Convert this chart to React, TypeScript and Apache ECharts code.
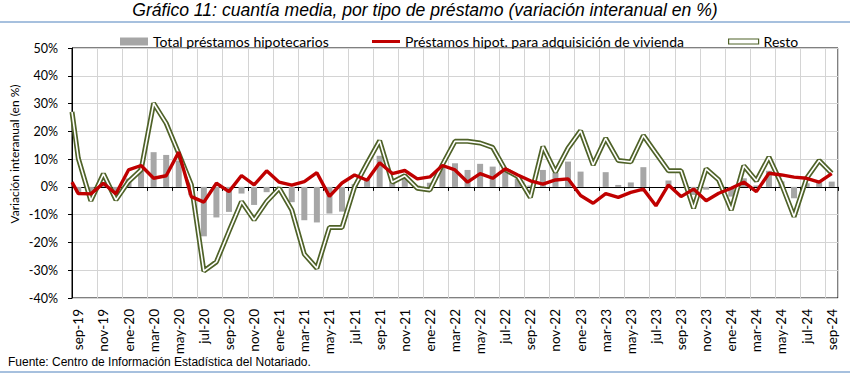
import React, { useEffect, useRef } from "react";
import * as echarts from "echarts";

const categories = [
  "sep-19","oct-19","nov-19","dic-19","ene-20","feb-20","mar-20","abr-20","may-20","jun-20",
  "jul-20","ago-20","sep-20","oct-20","nov-20","dic-20","ene-21","feb-21","mar-21","abr-21",
  "may-21","jun-21","jul-21","ago-21","sep-21","oct-21","nov-21","dic-21","ene-22","feb-22",
  "mar-22","abr-22","may-22","jun-22","jul-22","ago-22","sep-22","oct-22","nov-22","dic-22",
  "ene-23","feb-23","mar-23","abr-23","may-23","jun-23","jul-23","ago-23","sep-23","oct-23",
  "nov-23","dic-23","ene-24","feb-24","mar-24","abr-24","may-24","jun-24","jul-24","ago-24",
  "sep-24",
];

const totalPrestamos = [
  -2, -3, 1, -3, 3, 7, 12.5, 11.5, 9.5, -3,
  -17.8, -11, -9, -2.4, -6.5, -1.9, -1, -5.5, -12, -12.8,
  -9.6, -8.9, 1, 3, 11.2, 1.5, 4, 0.5, 1.5, 7.7,
  8.5, 6.1, 8.3, 7.3, 5.5, 3, 0.5, 6.1, 5, 9.1,
  5.5, 0, 5.3, 0.7, 1.6, 7.1, 0, 2.3, 0, -2.9,
  -1, 0, -3.5, 3.1, 0.5, 5.8, 2, -4.1, 1.3, 1.7,
  1.9,
];

const adquisicionVivienda = [
  -2.4, -2.5, 1.3, -2.5, 6.1, 7.7, 3.1, 4, 12.5, -3.5,
  -5.5, 1.3, -1.7, 4.1, 0.7, 5.8, 1.7, 0.6, 1.9, 5.1,
  -3.4, 1.4, 4.3, 2.4, 8.7, 4.8, 5.9, 2.9, 3.6, 7.7,
  6.1, 1.7, 4.8, 3.1, 6.5, 4.3, 2.2, 1, 2.5, 2.9,
  -3.1, -5.9, -2.4, -3.8, -2, -0.8, -6.8, 0.7, -3.5, -0.8,
  -5, -2.3, -0.5, 1.7, -1.7, 4.9, 4.3, 3.5, 3.1, 1.7,
  4.8,
];

const resto = [
  10.3, -5, 4.7, -4.7, 1.9, 6.1, 30.1, 22.9, 12, 0.8,
  -30.3, -27, -16, -5.3, -11.9, -5.3, -0.5, -8.3, -24.2, -29.3,
  -14.6, -14.6, 0, 8.5, 16.6, 1.7, 4, -0.5, -1.1, 8,
  16.4, 16.4, 15.8, 14.2, 6.2, 3.7, -3.8, 14.5, 5.3, 13.9,
  20.2, 7.9, 17.5, 9.5, 9, 18.5, 12.1, 5.8, 5.8, -7.7,
  6.5, 2.5, -8.3, 7.6, 2.2, 10.7, 1, -10.7, 3.1, 9.5,
  4.9,
];

// Values where each line enters the plot at its left edge (the segment coming from the previous month)
const edgeAdquisicion = 1.7;
const edgeResto = 27;

const yTicks = { min: -40, max: 50, interval: 10 };

const FONT = "Lato, 'Liberation Sans', sans-serif";
const RED = "#c00000";
const OLIVE = "#4f6228";
const GRAY = "#a6a6a6";
const GRID = "#d4d4d4";

function withEdge(edge: number, arr: number[]) {
  const out: [number, number][] = [[-0.5, edge]];
  arr.forEach((v, i) => out.push([i, v]));
  return out;
}

export default function App() {
  const ref = useRef<HTMLDivElement>(null);

  useEffect(() => {
    if (!ref.current) return;
    const chart = echarts.init(ref.current, undefined, { renderer: "svg" });
    const n = categories.length;
    const legendText = { fontFamily: FONT, fontSize: 14, color: "#000", lineHeight: 14 };

    chart.setOption({
      animation: false,
      backgroundColor: "#ffffff",
      grid: {
        left: 72,
        right: 12,
        top: 48,
        bottom: 76,
        show: true,
        borderColor: "#000",
        borderWidth: 1,
        backgroundColor: "transparent",
      },
      legend: [
        {
          data: ["Total préstamos hipotecarios"],
          left: 120,
          top: 34.5,
          padding: 0,
          itemWidth: 28,
          itemHeight: 8,
          icon: "rect",
          textStyle: legendText,
        },
        {
          data: ["Préstamos hipot. para adquisición de vivienda"],
          left: 372,
          top: 34.5,
          padding: 0,
          itemWidth: 28,
          itemHeight: 3,
          icon: "rect",
          textStyle: legendText,
        },
        {
          data: [{ name: "Resto", itemStyle: { color: "#ffffff", borderColor: OLIVE, borderWidth: 1.2 } }],
          left: 728,
          top: 34.5,
          padding: 0,
          itemWidth: 30,
          itemHeight: 5,
          icon: "rect",
          textStyle: legendText,
        },
      ],
      xAxis: [
        {
          type: "category",
          data: categories,
          boundaryGap: true,
          position: "bottom",
          axisLine: { show: false, onZero: false },
          axisTick: { show: false },
          axisLabel: {
            interval: 1,
            rotate: 90,
            margin: 11,
            fontFamily: FONT,
            fontSize: 13.5,
            color: "#000",
          },
          splitLine: { show: true, interval: 1, lineStyle: { color: GRID, width: 1 } },
        },
        {
          type: "category",
          data: categories,
          boundaryGap: true,
          position: "bottom",
          axisLine: { show: true, onZero: true, lineStyle: { color: "#000", width: 1 } },
          axisTick: { show: true, interval: 1, length: 4, lineStyle: { color: "#000" } },
          axisLabel: { show: false },
          splitLine: { show: false },
        },
        {
          type: "value",
          min: -0.5,
          max: n - 0.5,
          show: false,
          axisLine: { onZero: false },
          splitLine: { show: false },
        },
      ],
      yAxis: {
        type: "value",
        min: yTicks.min,
        max: yTicks.max,
        interval: yTicks.interval,
        axisLine: { show: true, onZero: false, lineStyle: { color: "#000" } },
        axisTick: { show: true, length: 4, lineStyle: { color: "#000" } },
        axisLabel: {
          formatter: "{value}%",
          fontFamily: FONT,
          fontSize: 12.5,
          color: "#000",
          margin: 14,
        },
        splitLine: { show: true, lineStyle: { color: GRID, width: 1 } },
      },
      series: [
        {
          name: "Total préstamos hipotecarios",
          type: "bar",
          xAxisIndex: 0,
          data: totalPrestamos,
          barWidth: 6,
          itemStyle: { color: GRAY },
          z: 2,
        },
        {
          name: "Resto",
          type: "line",
          xAxisIndex: 2,
          data: withEdge(edgeResto, resto),
          symbol: "none",
          clip: false,
          lineStyle: { color: OLIVE, width: 5 },
          itemStyle: { color: OLIVE },
          z: 3,
        },
        {
          name: "RestoInner",
          type: "line",
          xAxisIndex: 2,
          data: withEdge(edgeResto, resto),
          symbol: "none",
          clip: false,
          lineStyle: { color: "#ffffff", width: 1.6 },
          z: 4,
        },
        {
          name: "Préstamos hipot. para adquisición de vivienda",
          type: "line",
          xAxisIndex: 2,
          data: withEdge(edgeAdquisicion, adquisicionVivienda),
          symbol: "none",
          clip: false,
          lineStyle: { color: RED, width: 3.4 },
          itemStyle: { color: RED },
          z: 5,
        },
      ],
      graphic: [
        {
          type: "text",
          x: 425,
          y: 10,
          style: {
            text: "Gráfico 11: cuantía media, por tipo de préstamo (variación interanual en %)",
            font: "italic 17.6px 'Liberation Sans', Arial, sans-serif",
            fill: "#000",
            align: "center",
            verticalAlign: "middle",
            textAlign: "center",
            textVerticalAlign: "middle",
          },
        },
        {
          type: "line",
          shape: { x1: 0, y1: 22, x2: 850, y2: 22 },
          style: { stroke: "#4f81bd", lineWidth: 1 },
        },
        {
          type: "line",
          shape: { x1: 0, y1: 372, x2: 850, y2: 372 },
          style: { stroke: "#4f81bd", lineWidth: 1 },
        },
        {
          type: "text",
          x: 14,
          y: 154,
          rotation: Math.PI / 2,
          style: {
            text: "Variación interanual (en %)",
            font: "12px Lato, 'Liberation Sans', sans-serif",
            fill: "#000",
            align: "center",
            verticalAlign: "middle",
            textAlign: "center",
            textVerticalAlign: "middle",
          },
        },
        {
          type: "text",
          x: 8,
          y: 362,
          style: {
            text: "Fuente: Centro de Información Estadística del Notariado.",
            font: "12px 'Liberation Sans', Arial, sans-serif",
            fill: "#000",
            align: "left",
            verticalAlign: "middle",
            textAlign: "left",
            textVerticalAlign: "middle",
          },
        },
      ],
    });

    return () => chart.dispose();
  }, []);

  return (
    <div
      ref={ref}
      style={{ position: "fixed", left: 0, top: 0, width: 850, height: 374, background: "#fff" }}
    />
  );
}
